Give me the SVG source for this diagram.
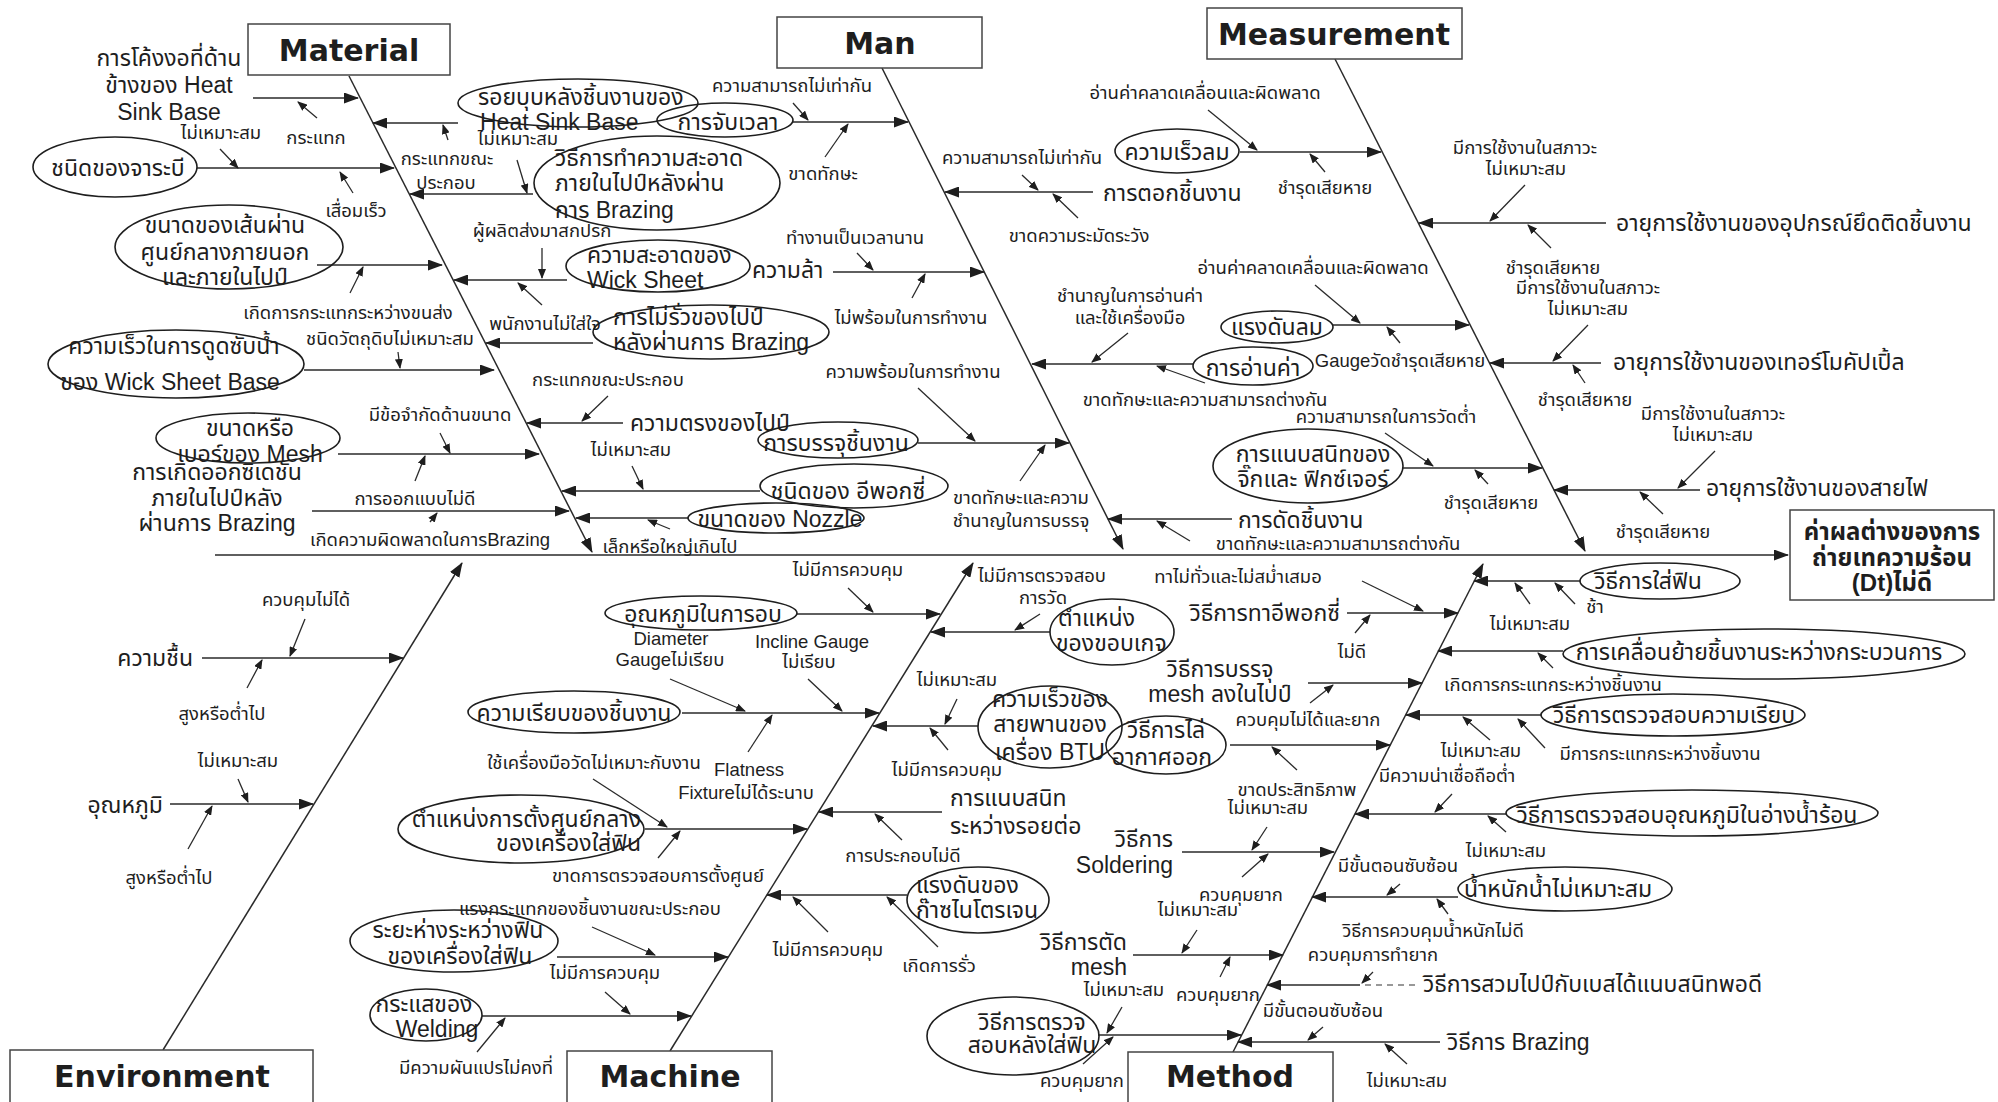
<svg xmlns="http://www.w3.org/2000/svg" width="1998" height="1102" viewBox="0 0 1998 1102">
<style>
text{font-family:"Liberation Sans","Noto Sans Thai","Noto Sans",sans-serif;fill:#1e1e1e;dominant-baseline:central}
.b{font-size:23px}
.s{font-size:18.5px}
.m{text-anchor:middle}
.e{text-anchor:end}
.c{font-family:"DejaVu Sans",sans-serif;font-weight:bold;font-size:30px;text-anchor:middle}
.fx{font-weight:bold;font-size:24px;text-anchor:middle}
.ln{stroke:#2a2a2a;stroke-width:1.3;fill:none}
.bn{stroke:#2a2a2a;stroke-width:1.5;fill:none}
.el{fill:none;stroke:#1e1e1e;stroke-width:1.6}
.bx{fill:#fff;stroke:#444;stroke-width:1.5}
.dash{stroke:#777;stroke-width:1.3;stroke-dasharray:6 5}
</style>
<defs>
<marker id="A" markerWidth="15" markerHeight="11" refX="14" refY="5.5" orient="auto" markerUnits="userSpaceOnUse"><path d="M0,0L15,5.5L0,11z" fill="#1e1e1e"/></marker>
<marker id="S" markerWidth="10" markerHeight="8" refX="9" refY="4" orient="auto" markerUnits="userSpaceOnUse"><path d="M0,0L10,4L0,8z" fill="#1e1e1e"/></marker>
</defs>
<rect width="1998" height="1102" fill="#fff"/>
<g id="connectors">
<g class="bn" marker-end="url(#A)">
<line x1="215" y1="555" x2="1788" y2="555"/>
<line x1="349" y1="76" x2="592" y2="552"/>
<line x1="882" y1="68" x2="1123" y2="549"/>
<line x1="1335" y1="59" x2="1585" y2="551"/>
<line x1="163" y1="1050" x2="462" y2="563"/>
<line x1="670" y1="1051" x2="973" y2="563"/>
<line x1="1233" y1="1052" x2="1483" y2="564"/>
</g>
<g class="ln" marker-end="url(#A)">
<line x1="253" y1="98" x2="358" y2="98"/>
<line x1="197" y1="168" x2="394" y2="168"/>
<line x1="317" y1="265" x2="442" y2="265"/>
<line x1="304" y1="370" x2="494" y2="370"/>
<line x1="338" y1="454" x2="539" y2="454"/>
<line x1="312" y1="511" x2="569" y2="511"/>
<line x1="458" y1="123" x2="373" y2="123"/>
<line x1="533" y1="194" x2="410" y2="194"/>
<line x1="567" y1="280" x2="454" y2="280"/>
<line x1="593" y1="343" x2="486" y2="343"/>
<line x1="623" y1="423" x2="527" y2="423"/>
<line x1="760" y1="491" x2="562" y2="491"/>
<line x1="688" y1="518" x2="576" y2="518"/>
<line x1="793" y1="122" x2="908" y2="122"/>
<line x1="833" y1="272" x2="984" y2="272"/>
<line x1="918" y1="443" x2="1069" y2="443"/>
<line x1="1093" y1="192" x2="945" y2="192"/>
<line x1="1193" y1="364" x2="1032" y2="364"/>
<line x1="1232" y1="519" x2="1108" y2="519"/>
<line x1="1240" y1="152" x2="1381" y2="152"/>
<line x1="1333" y1="325" x2="1469" y2="325"/>
<line x1="1403" y1="468" x2="1542" y2="468"/>
<line x1="1606" y1="223" x2="1419" y2="223"/>
<line x1="1601" y1="363" x2="1490" y2="363"/>
<line x1="1700" y1="490" x2="1554" y2="490"/>
<line x1="202" y1="658" x2="403" y2="658"/>
<line x1="170" y1="804" x2="313" y2="804"/>
<line x1="797" y1="614" x2="940" y2="614"/>
<line x1="682" y1="713" x2="879" y2="713"/>
<line x1="645" y1="829" x2="807" y2="829"/>
<line x1="557" y1="957" x2="728" y2="957"/>
<line x1="482" y1="1016" x2="691" y2="1016"/>
<line x1="1050" y1="632" x2="931" y2="632"/>
<line x1="978" y1="726" x2="873" y2="726"/>
<line x1="942" y1="812" x2="819" y2="812"/>
<line x1="907" y1="895" x2="767" y2="895"/>
<line x1="1347" y1="613" x2="1458" y2="613"/>
<line x1="1308" y1="683" x2="1422" y2="683"/>
<line x1="1230" y1="745" x2="1390" y2="745"/>
<line x1="1182" y1="852" x2="1334" y2="852"/>
<line x1="1133" y1="955" x2="1283" y2="955"/>
<line x1="1098" y1="1035" x2="1241" y2="1035"/>
<line x1="1580" y1="581" x2="1474" y2="581"/>
<line x1="1563" y1="651" x2="1438" y2="651"/>
<line x1="1541" y1="715" x2="1406" y2="715"/>
<line x1="1506" y1="814" x2="1355" y2="814"/>
<line x1="1458" y1="897" x2="1312" y2="897"/>
<line x1="1360" y1="985" x2="1267" y2="985"/>
<line x1="1440" y1="1042" x2="1238" y2="1042"/>
</g>
<line class="dash" x1="1415" y1="985" x2="1360" y2="985"/>
<g class="ln" marker-end="url(#S)">
<line x1="317" y1="118" x2="298" y2="102"/>
<line x1="220" y1="149" x2="238" y2="168"/>
<line x1="353" y1="193" x2="340" y2="172"/>
<line x1="350" y1="293" x2="363" y2="267"/>
<line x1="398" y1="352" x2="400" y2="368"/>
<line x1="440" y1="433" x2="450" y2="453"/>
<line x1="415" y1="481" x2="425" y2="456"/>
<line x1="430" y1="522" x2="437" y2="513"/>
<line x1="448" y1="140" x2="443" y2="125"/>
<line x1="517" y1="160" x2="527" y2="193"/>
<line x1="542" y1="248" x2="542" y2="278"/>
<line x1="542" y1="305" x2="518" y2="283"/>
<line x1="608" y1="396" x2="582" y2="421"/>
<line x1="632" y1="466" x2="643" y2="489"/>
<line x1="670" y1="529" x2="648" y2="520"/>
<line x1="793" y1="103" x2="808" y2="120"/>
<line x1="825" y1="157" x2="848" y2="124"/>
<line x1="857" y1="253" x2="873" y2="270"/>
<line x1="912" y1="298" x2="925" y2="274"/>
<line x1="918" y1="388" x2="975" y2="441"/>
<line x1="1020" y1="481" x2="1045" y2="445"/>
<line x1="1022" y1="175" x2="1038" y2="190"/>
<line x1="1078" y1="218" x2="1053" y2="194"/>
<line x1="1128" y1="333" x2="1092" y2="362"/>
<line x1="1205" y1="383" x2="1157" y2="366"/>
<line x1="1190" y1="541" x2="1157" y2="521"/>
<line x1="1208" y1="110" x2="1257" y2="150"/>
<line x1="1325" y1="172" x2="1310" y2="154"/>
<line x1="1315" y1="285" x2="1360" y2="323"/>
<line x1="1400" y1="343" x2="1387" y2="327"/>
<line x1="1385" y1="433" x2="1433" y2="466"/>
<line x1="1488" y1="484" x2="1475" y2="470"/>
<line x1="1525" y1="185" x2="1490" y2="221"/>
<line x1="1551" y1="248" x2="1528" y2="225"/>
<line x1="1588" y1="325" x2="1553" y2="361"/>
<line x1="1585" y1="383" x2="1573" y2="365"/>
<line x1="1715" y1="451" x2="1678" y2="488"/>
<line x1="1663" y1="514" x2="1640" y2="492"/>
<line x1="305" y1="619" x2="290" y2="656"/>
<line x1="247" y1="688" x2="262" y2="660"/>
<line x1="238" y1="779" x2="248" y2="802"/>
<line x1="188" y1="849" x2="212" y2="806"/>
<line x1="848" y1="588" x2="873" y2="612"/>
<line x1="670" y1="679" x2="745" y2="711"/>
<line x1="808" y1="679" x2="842" y2="711"/>
<line x1="748" y1="752" x2="772" y2="715"/>
<line x1="593" y1="779" x2="667" y2="827"/>
<line x1="658" y1="858" x2="680" y2="831"/>
<line x1="592" y1="927" x2="655" y2="955"/>
<line x1="605" y1="992" x2="630" y2="1014"/>
<line x1="477" y1="1052" x2="505" y2="1018"/>
<line x1="1040" y1="614" x2="1015" y2="630"/>
<line x1="957" y1="699" x2="945" y2="724"/>
<line x1="948" y1="750" x2="930" y2="728"/>
<line x1="902" y1="840" x2="875" y2="814"/>
<line x1="828" y1="932" x2="793" y2="897"/>
<line x1="938" y1="947" x2="887" y2="897"/>
<line x1="1362" y1="581" x2="1423" y2="611"/>
<line x1="1355" y1="633" x2="1370" y2="615"/>
<line x1="1310" y1="703" x2="1333" y2="685"/>
<line x1="1297" y1="770" x2="1272" y2="747"/>
<line x1="1267" y1="827" x2="1252" y2="850"/>
<line x1="1242" y1="877" x2="1268" y2="854"/>
<line x1="1197" y1="930" x2="1182" y2="953"/>
<line x1="1220" y1="977" x2="1230" y2="957"/>
<line x1="1122" y1="1007" x2="1107" y2="1033"/>
<line x1="1083" y1="1064" x2="1113" y2="1037"/>
<line x1="1530" y1="604" x2="1515" y2="583"/>
<line x1="1575" y1="604" x2="1555" y2="583"/>
<line x1="1553" y1="668" x2="1538" y2="653"/>
<line x1="1490" y1="740" x2="1463" y2="717"/>
<line x1="1545" y1="748" x2="1518" y2="719"/>
<line x1="1452" y1="794" x2="1435" y2="812"/>
<line x1="1506" y1="832" x2="1488" y2="816"/>
<line x1="1400" y1="884" x2="1387" y2="895"/>
<line x1="1448" y1="914" x2="1437" y2="899"/>
<line x1="1373" y1="972" x2="1362" y2="983"/>
<line x1="1323" y1="1027" x2="1308" y2="1040"/>
<line x1="1407" y1="1064" x2="1385" y2="1044"/>
</g>
</g>
<g id="cat-material"><rect class="bx" x="248" y="24" width="202" height="51"/><text class="c" x="349" y="50">Material</text></g>
<g id="cat-man"><rect class="bx" x="777" y="17" width="205" height="51"/><text class="c" x="880" y="43">Man</text></g>
<g id="cat-measurement"><rect class="bx" x="1207" y="8" width="255" height="51"/><text class="c" x="1334" y="34">Measurement</text></g>
<g id="cat-environment"><rect class="bx" x="10" y="1050" width="303" height="60"/><text class="c" x="162" y="1076">Environment</text></g>
<g id="cat-machine"><rect class="bx" x="567" y="1051" width="205" height="60"/><text class="c" x="670" y="1076">Machine</text></g>
<g id="cat-method"><rect class="bx" x="1128" y="1052" width="205" height="60"/><text class="c" x="1230" y="1076">Method</text></g>
<g id="effect"><rect class="bx" x="1790" y="510" width="204" height="90"/><text class="fx" x="1892" y="531">ค่าผลต่างของการ</text><text class="fx" x="1892" y="557">ถ่ายเทความร้อน</text><text class="fx" x="1892" y="582">(Dt)ไม่ดี</text></g>
<g id="material-causes">
<g id="m1"><text class="b m" x="169" y="58">การโค้งงอที่ด้าน</text><text class="b m" x="169" y="85">ข้างของ Heat</text><text class="b m" x="169" y="112">Sink Base</text></g>
<g id="m2"><ellipse class="el" cx="115" cy="167" rx="82" ry="30"/><text class="b m" x="118" y="168">ชนิดของจาระบี</text></g>
<g id="m3"><ellipse class="el" cx="229" cy="247" rx="114" ry="42"/><text class="b m" x="225" y="225">ขนาดของเส้นผ่าน</text><text class="b m" x="225" y="252">ศูนย์กลางภายนอก</text><text class="b m" x="225" y="277">และภายในไปป์</text></g>
<g id="m4"><ellipse class="el" cx="176" cy="364" rx="128" ry="34"/><text class="b m" x="174" y="346">ความเร็วในการดูดซับน้ำ</text><text class="b m" x="170" y="382">ของ Wick Sheet Base</text></g>
<g id="m5"><ellipse class="el" cx="248" cy="438" rx="92" ry="25"/><text class="b m" x="250" y="428">ขนาดหรือ</text><text class="b m" x="250" y="454">เบอร์ของ Mesh</text></g>
<g id="m6"><text class="b m" x="217" y="472">การเกิดออกซิเดชัน</text><text class="b m" x="217" y="498">ภายในไปป์หลัง</text><text class="b m" x="217" y="523">ผ่านการ Brazing</text></g>
<g id="m7"><ellipse class="el" cx="578" cy="103" rx="120" ry="24"/><text class="b" x="478" y="97">รอยบุบหลังชิ้นงานของ</text><text class="b" x="480" y="122">Heat Sink Base</text></g>
<g id="m8"><ellipse class="el" cx="657" cy="183" rx="123" ry="47"/><text class="b" x="555" y="158">วิธีการทำความสะอาด</text><text class="b" x="555" y="183">ภายในไปป์หลังผ่าน</text><text class="b" x="555" y="210">การ Brazing</text></g>
<g id="m9"><ellipse class="el" cx="658" cy="266" rx="92" ry="26"/><text class="b" x="587" y="255">ความสะอาดของ</text><text class="b" x="587" y="280">Wick Sheet</text></g>
<g id="m10"><ellipse class="el" cx="711" cy="332" rx="118" ry="27"/><text class="b" x="613" y="317">การไม่รั่วของไปป์</text><text class="b" x="613" y="342">หลังผ่านการ Brazing</text></g>
<g id="m11"><text class="b" x="630" y="423">ความตรงของไปป์</text></g>
<g id="m12"><ellipse class="el" cx="854" cy="486" rx="94" ry="22"/><text class="b m" x="848" y="491">ชนิดของ อีพอกซี่</text></g>
<g id="m13"><ellipse class="el" cx="776" cy="518" rx="88" ry="15"/><text class="b m" x="780" y="519">ขนาดของ Nozzle</text></g>
</g>
<g id="material-labels">
<text class="s m" x="316" y="137">กระแทก</text>
<text class="s m" x="221" y="132">ไม่เหมาะสม</text>
<text class="s m" x="356" y="210">เสื่อมเร็ว</text>
<text class="s m" x="348" y="312">เกิดการกระแทกระหว่างขนส่ง</text>
<text class="s m" x="390" y="338">ชนิดวัตถุดิบไม่เหมาะสม</text>
<text class="s m" x="447" y="158">กระแทกขณะ</text>
<text class="s m" x="446" y="182">ประกอบ</text>
<text class="s m" x="518" y="138">ไม่เหมาะสม</text>
<text class="s m" x="542" y="230">ผู้ผลิตส่งมาสกปรก</text>
<text class="s m" x="545" y="323">พนักงานไม่ใส่ใจ</text>
<text class="s m" x="440" y="414">มีข้อจำกัดด้านขนาด</text>
<text class="s m" x="415" y="498">การออกแบบไม่ดี</text>
<text class="s m" x="430" y="539">เกิดความผิดพลาดในการBrazing</text>
<text class="s m" x="608" y="379">กระแทกขณะประกอบ</text>
<text class="s m" x="631" y="449">ไม่เหมาะสม</text>
<text class="s m" x="670" y="546">เล็กหรือใหญ่เกินไป</text>
</g>
<g id="man-causes">
<g id="h1"><ellipse class="el" cx="725" cy="120" rx="68" ry="17"/><text class="b m" x="728" y="122">การจับเวลา</text></g>
<g id="h2"><text class="b" x="752" y="270">ความล้า</text></g>
<g id="h3"><ellipse class="el" cx="838" cy="440" rx="80" ry="18"/><text class="b m" x="836" y="443">การบรรจุชิ้นงาน</text></g>
<g id="h4"><text class="b" x="1103" y="193">การตอกชิ้นงาน</text></g>
<g id="h5"><ellipse class="el" cx="1253" cy="366" rx="60" ry="19"/><text class="b m" x="1253" y="368">การอ่านค่า</text></g>
<g id="h6"><text class="b" x="1238" y="520">การดัดชิ้นงาน</text></g>
</g>
<g id="man-labels">
<text class="s m" x="792" y="85">ความสามารถไม่เท่ากัน</text>
<text class="s m" x="823" y="173">ขาดทักษะ</text>
<text class="s m" x="855" y="237">ทำงานเป็นเวลานาน</text>
<text class="s m" x="911" y="317">ไม่พร้อมในการทำงาน</text>
<text class="s m" x="913" y="371">ความพร้อมในการทำงาน</text>
<text class="s m" x="1021" y="497">ขาดทักษะและความ</text>
<text class="s m" x="1021" y="520">ชำนาญในการบรรจุ</text>
<text class="s m" x="1022" y="157">ความสามารถไม่เท่ากัน</text>
<text class="s m" x="1079" y="235">ขาดความระมัดระวัง</text>
<text class="s m" x="1130" y="295">ชำนาญในการอ่านค่า</text>
<text class="s m" x="1130" y="317">และใช้เครื่องมือ</text>
<text class="s m" x="1205" y="399">ขาดทักษะและความสามารถต่างกัน</text>
<text class="s m" x="1338" y="543">ขาดทักษะและความสามารถต่างกัน</text>
</g>
<g id="measurement-causes">
<g id="r1"><ellipse class="el" cx="1177" cy="151" rx="62" ry="22"/><text class="b m" x="1177" y="152">ความเร็วลม</text></g>
<g id="r2"><ellipse class="el" cx="1277" cy="327" rx="56" ry="16"/><text class="b m" x="1277" y="327">แรงดันลม</text></g>
<g id="r3"><ellipse class="el" cx="1308" cy="466" rx="95" ry="37"/><text class="b m" x="1313" y="454">การแนบสนิทของ</text><text class="b m" x="1313" y="479">จิ๊กและ ฟิกซ์เจอร์</text></g>
<g id="r4"><text class="b" x="1616" y="223">อายุการใช้งานของอุปกรณ์ยึดติดชิ้นงาน</text></g>
<g id="r5"><text class="b" x="1613" y="362">อายุการใช้งานของเทอร์โมคัปเปิ้ล</text></g>
<g id="r6"><text class="b" x="1706" y="488">อายุการใช้งานของสายไฟ</text></g>
</g>
<g id="measurement-labels">
<text class="s m" x="1205" y="92">อ่านค่าคลาดเคลื่อนและผิดพลาด</text>
<text class="s m" x="1325" y="187">ชำรุดเสียหาย</text>
<text class="s m" x="1313" y="267">อ่านค่าคลาดเคลื่อนและผิดพลาด</text>
<text class="s m" x="1400" y="360">Gaugeวัดชำรุดเสียหาย</text>
<text class="s m" x="1386" y="416">ความสามารถในการวัดต่ำ</text>
<text class="s m" x="1491" y="502">ชำรุดเสียหาย</text>
<text class="s m" x="1525" y="147">มีการใช้งานในสภาวะ</text>
<text class="s m" x="1526" y="168">ไม่เหมาะสม</text>
<text class="s m" x="1553" y="267">ชำรุดเสียหาย</text>
<text class="s m" x="1588" y="287">มีการใช้งานในสภาวะ</text>
<text class="s m" x="1588" y="308">ไม่เหมาะสม</text>
<text class="s m" x="1585" y="399">ชำรุดเสียหาย</text>
<text class="s m" x="1713" y="413">มีการใช้งานในสภาวะ</text>
<text class="s m" x="1713" y="434">ไม่เหมาะสม</text>
<text class="s m" x="1663" y="531">ชำรุดเสียหาย</text>
</g>
<g id="environment-causes">
<g id="v1"><text class="b e" x="193" y="658">ความชื้น</text></g>
<g id="v2"><text class="b e" x="163" y="805">อุณหภูมิ</text></g>
<text class="s m" x="306" y="599">ควบคุมไม่ได้</text>
<text class="s m" x="222" y="713">สูงหรือต่ำไป</text>
<text class="s m" x="238" y="760">ไม่เหมาะสม</text>
<text class="s m" x="169" y="877">สูงหรือต่ำไป</text>
</g>
<g id="machine-causes">
<g id="k1"><ellipse class="el" cx="701" cy="613" rx="96" ry="17"/><text class="b m" x="703" y="614">อุณหภูมิในการอบ</text></g>
<g id="k2"><ellipse class="el" cx="574" cy="712" rx="106" ry="21"/><text class="b m" x="574" y="713">ความเรียบของชิ้นงาน</text></g>
<g id="k3"><ellipse class="el" cx="521" cy="829" rx="123" ry="34"/><text class="b e" x="641" y="819">ตำแหน่งการตั้งศูนย์กลาง</text><text class="b e" x="641" y="843">ของเครื่องใส่ฟิน</text></g>
<g id="k4"><ellipse class="el" cx="454" cy="941" rx="104" ry="31"/><text class="b m" x="458" y="930">ระยะห่างระหว่างฟิน</text><text class="b m" x="460" y="956">ของเครื่องใส่ฟิน</text></g>
<g id="k5"><ellipse class="el" cx="426" cy="1015" rx="56" ry="26"/><text class="b m" x="424" y="1004">กระแสของ</text><text class="b m" x="437" y="1029">Welding</text></g>
<g id="k6"><ellipse class="el" cx="1112" cy="632" rx="62" ry="33"/><text class="b" x="1058" y="618">ตำแหน่ง</text><text class="b" x="1056" y="643">ของขอบเกจ</text></g>
<g id="k7"><ellipse class="el" cx="1050" cy="727" rx="72" ry="41"/><text class="b m" x="1050" y="699">ความเร็วของ</text><text class="b m" x="1050" y="724">สายพานของ</text><text class="b m" x="1050" y="752">เครื่อง BTU</text></g>
<g id="k8"><text class="b" x="950" y="798">การแนบสนิท</text><text class="b" x="950" y="826">ระหว่างรอยต่อ</text></g>
<g id="k9"><ellipse class="el" cx="978" cy="900" rx="71" ry="33"/><text class="b" x="916" y="885">แรงดันของ</text><text class="b" x="916" y="910">ก๊าซไนโตรเจน</text></g>
</g>
<g id="machine-labels">
<text class="s m" x="848" y="569">ไม่มีการควบคุม</text>
<text class="s m" x="671" y="638">Diameter</text>
<text class="s m" x="670" y="659">Gaugeไม่เรียบ</text>
<text class="s m" x="812" y="641">Incline Gauge</text>
<text class="s m" x="809" y="661">ไม่เรียบ</text>
<text class="s m" x="749" y="769">Flatness</text>
<text class="s m" x="746" y="792">Fixtureไม่ได้ระนาบ</text>
<text class="s m" x="594" y="762">ใช้เครื่องมือวัดไม่เหมาะกับงาน</text>
<text class="s m" x="658" y="875">ขาดการตรวจสอบการตั้งศูนย์</text>
<text class="s m" x="590" y="908">แรงกระแทกของชิ้นงานขณะประกอบ</text>
<text class="s m" x="605" y="972">ไม่มีการควบคุม</text>
<text class="s m" x="476" y="1067">มีความผันแปรไม่คงที่</text>
<text class="s m" x="1042" y="575">ไม่มีการตรวจสอบ</text>
<text class="s m" x="1043" y="597">การวัด</text>
<text class="s m" x="957" y="679">ไม่เหมาะสม</text>
<text class="s m" x="947" y="769">ไม่มีการควบคุม</text>
<text class="s m" x="903" y="855">การประกอบไม่ดี</text>
<text class="s m" x="828" y="949">ไม่มีการควบคุม</text>
<text class="s m" x="939" y="965">เกิดการรั่ว</text>
</g>
<g id="method-causes">
<g id="t1"><text class="b e" x="1340" y="613">วิธีการทาอีพอกซี่</text></g>
<g id="t2"><text class="b m" x="1220" y="669">วิธีการบรรจุ</text><text class="b m" x="1220" y="694">mesh ลงในไปป์</text></g>
<g id="t3"><ellipse class="el" cx="1166" cy="745" rx="60" ry="29"/><text class="b m" x="1166" y="730">วิธีการไล่</text><text class="b m" x="1162" y="757">อากาศออก</text></g>
<g id="t4"><text class="b e" x="1173" y="839">วิธีการ</text><text class="b e" x="1173" y="865">Soldering</text></g>
<g id="t5"><text class="b e" x="1127" y="942">วิธีการตัด</text><text class="b e" x="1127" y="967">mesh</text></g>
<g id="t6"><ellipse class="el" cx="1013" cy="1036" rx="86" ry="39"/><text class="b m" x="1032" y="1022">วิธีการตรวจ</text><text class="b m" x="1032" y="1045">สอบหลังใส่ฟิน</text></g>
<g id="t7"><ellipse class="el" cx="1660" cy="581" rx="80" ry="18"/><text class="b m" x="1648" y="581">วิธีการใส่ฟิน</text></g>
<g id="t8"><ellipse class="el" cx="1764" cy="654" rx="201" ry="25"/><text class="b m" x="1759" y="652">การเคลื่อนย้ายชิ้นงานระหว่างกระบวนการ</text></g>
<g id="t9"><ellipse class="el" cx="1673" cy="715" rx="132" ry="21"/><text class="b m" x="1674" y="715">วิธีการตรวจสอบความเรียบ</text></g>
<g id="t10"><ellipse class="el" cx="1692" cy="813" rx="186" ry="23"/><text class="b m" x="1687" y="815">วิธีการตรวจสอบอุณหภูมิในอ่างน้ำร้อน</text></g>
<g id="t11"><ellipse class="el" cx="1565" cy="889" rx="107" ry="22"/><text class="b m" x="1558" y="889">น้ำหนักน้ำไม่เหมาะสม</text></g>
<g id="t12"><text class="b" x="1423" y="984">วิธีการสวมไปป์กับเบสได้แนบสนิทพอดี</text></g>
<g id="t13"><text class="b" x="1447" y="1042">วิธีการ Brazing</text></g>
</g>
<g id="method-labels">
<text class="s m" x="1238" y="576">ทาไม่ทั่วและไม่สม่ำเสมอ</text>
<text class="s m" x="1352" y="651">ไม่ดี</text>
<text class="s m" x="1308" y="719">ควบคุมไม่ได้และยาก</text>
<text class="s m" x="1297" y="789">ขาดประสิทธิภาพ</text>
<text class="s m" x="1268" y="807">ไม่เหมาะสม</text>
<text class="s m" x="1241" y="894">ควบคุมยาก</text>
<text class="s m" x="1198" y="909">ไม่เหมาะสม</text>
<text class="s m" x="1218" y="994">ควบคุมยาก</text>
<text class="s m" x="1124" y="989">ไม่เหมาะสม</text>
<text class="s m" x="1082" y="1080">ควบคุมยาก</text>
<text class="s m" x="1595" y="606">ช้า</text>
<text class="s m" x="1530" y="623">ไม่เหมาะสม</text>
<text class="s m" x="1553" y="684">เกิดการกระแทกระหว่างชิ้นงาน</text>
<text class="s m" x="1481" y="750">ไม่เหมาะสม</text>
<text class="s m" x="1660" y="753">มีการกระแทกระหว่างชิ้นงาน</text>
<text class="s m" x="1447" y="775">มีความน่าเชื่อถือต่ำ</text>
<text class="s m" x="1506" y="850">ไม่เหมาะสม</text>
<text class="s m" x="1398" y="865">มีขั้นตอนซับซ้อน</text>
<text class="s m" x="1433" y="930">วิธีการควบคุมน้ำหนักไม่ดี</text>
<text class="s m" x="1373" y="954">ควบคุมการทำยาก</text>
<text class="s m" x="1323" y="1010">มีขั้นตอนซับซ้อน</text>
<text class="s m" x="1407" y="1080">ไม่เหมาะสม</text>
</g>
</svg>
